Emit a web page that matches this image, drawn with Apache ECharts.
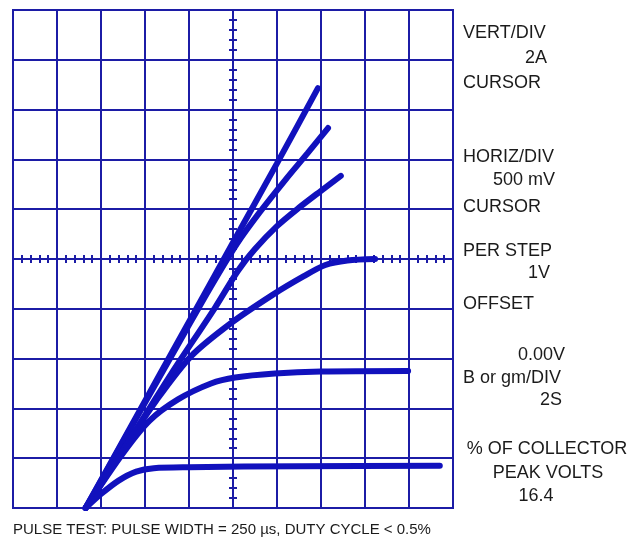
<!DOCTYPE html>
<html>
<head>
<meta charset="utf-8">
<script src="https://cdn.jsdelivr.net/npm/echarts@6/dist/echarts.min.js"></script>
<style>
  html, body { margin: 0; padding: 0; background: #fff; }
  #chart { width: 631px; height: 547px; }
</style>
</head>
<body>
<div id="chart"></div>
<script>
// screen divisions, origin at the centre of the graticule
var curve1 = [[-3.35, -5], [-2.2, -3.17], [-1.1, -1.42], [0.0, 0.33], [1.0, 1.92], [1.93, 3.43]];
var curve2 = [[-3.35, -5], [-2.2, -3.2], [-1.1, -1.48], [-0.5, -0.55], [0.1, 0.32], [0.6, 0.93], [1.2, 1.6], [1.7, 2.13], [2.16, 2.63]];
var curve3 = [[-3.35, -5], [-2.4, -3.7], [-1.4, -2.3], [-0.41, -0.98], [0.11, -0.24], [0.5, 0.2], [1.0, 0.66], [1.5, 1.03], [2.0, 1.37], [2.45, 1.67]];
var curve4 = [[-3.35, -5], [-2.55, -3.9], [-1.75, -2.85], [-0.95, -1.95], [-0.05, -1.29], [0.9, -0.72], [1.6, -0.35], [2.1, -0.12], [2.6, -0.03], [3.23, 0]];
var curve5 = [[-3.35, -5], [-2.5, -3.9], [-1.9, -3.25], [-1.25, -2.82], [-0.5, -2.5], [0.05, -2.38], [0.95, -2.3], [2.0, -2.26], [3.98, -2.25]];
var curve6 = [[-3.35, -5], [-3.0, -4.72], [-2.6, -4.45], [-2.2, -4.27], [-1.8, -4.2], [-1.0, -4.18], [1.5, -4.16], [4.7, -4.15]];

var curves = [curve1, curve2, curve3, curve4, curve5, curve6];

var gridColor = "#1c1ca6";
var traceColor = "#1111bd";
var textColor = "#1b1b1b";

var panelText = [
  // [text, x, y, align]
  ["VERT/DIV", 463, 33, "left"],
  ["2A", 547, 58, "right"],
  ["CURSOR", 463, 83, "left"],
  ["HORIZ/DIV", 463, 157, "left"],
  ["500 mV", 555, 180, "right"],
  ["CURSOR", 463, 207, "left"],
  ["PER STEP", 463, 251, "left"],
  ["1V", 550, 273, "right"],
  ["OFFSET", 463, 304, "left"],
  ["0.00V", 565, 355, "right"],
  ["B or gm/DIV", 463, 378, "left"],
  ["2S", 562, 400, "right"],
  ["% OF COLLECTOR", 547, 449, "center"],
  ["PEAK VOLTS", 548, 473, "center"],
  ["16.4", 536, 496, "center"]
];

var chart = echarts.init(document.getElementById("chart"));

function valueAxis(pos) {
  return {
    type: "value",
    position: pos,
    min: -5,
    max: 5,
    interval: 1,
    axisLine: { show: true, onZero: true, lineStyle: { color: gridColor, width: 2 } },
    axisTick: { show: true, length: 4, lineStyle: { color: gridColor, width: 2 } },
    minorTick: { show: true, splitNumber: 5, length: 4, lineStyle: { color: gridColor, width: 2 } },
    axisLabel: { show: false },
    splitLine: { show: true, lineStyle: { color: gridColor, width: 2 } }
  };
}

var graphics = panelText.map(function (t) {
  return {
    type: "text",
    x: t[1],
    y: t[2],
    style: {
      text: t[0],
      fill: textColor,
      font: "18px 'Liberation Sans', Arial, sans-serif",
      textAlign: t[3],
      textVerticalAlign: "middle"
    }
  };
});
graphics.push({
  type: "text",
  x: 13,
  y: 530,
  style: {
    text: "PULSE TEST: PULSE WIDTH = 250 µs, DUTY CYCLE < 0.5%",
    fill: textColor,
    font: "15px 'Liberation Sans', Arial, sans-serif",
    textAlign: "left",
    textVerticalAlign: "middle"
  }
});

var option = {
  backgroundColor: "#ffffff",
  animation: false,
  grid: {
    left: 13,
    top: 10,
    width: 440,
    height: 498,
    show: true,
    borderColor: gridColor,
    borderWidth: 2,
    backgroundColor: "transparent"
  },
  xAxis: [valueAxis("bottom"), valueAxis("top")],
  yAxis: [valueAxis("left"), valueAxis("right")],
  series: curves.map(function (c) {
    return {
      type: "line",
      data: c,
      xAxisIndex: 0,
      yAxisIndex: 0,
      smooth: 0.3,
      showSymbol: false,
      lineStyle: { color: traceColor, width: 6, cap: "round" },
      z: 5
    };
  }),
  graphic: graphics
};

chart.setOption(option);
</script>
</body>
</html>
